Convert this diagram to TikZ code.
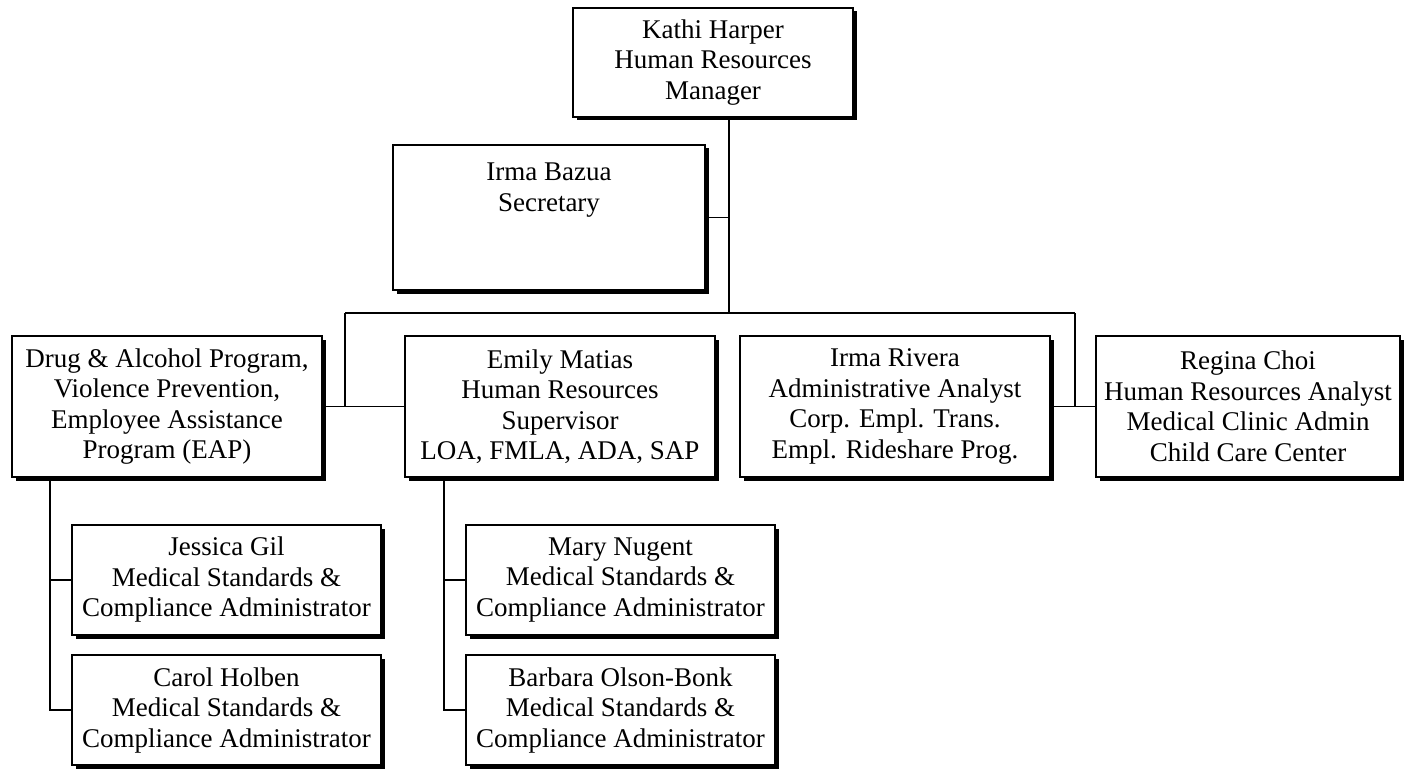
\documentclass[tikz,border=0pt]{standalone}
\usepackage{fontspec}
\setmainfont{Liberation Serif}
\usetikzlibrary{shadows}
\begin{document}
\begin{tikzpicture}[x=1pt,y=-1pt,
  box/.style={draw=black, line width=2pt, fill=white, inner sep=0pt, align=center,
    font=\fontsize{27}{30.5}\selectfont,
    drop shadow={shadow xshift=3.5pt, shadow yshift=-3.5pt, fill=black, opacity=1}},
  conn/.style={draw=black, line width=1.9pt}]
\useasboundingbox (0,0) rectangle (1405,770);
\coordinate (tj) at (729,313);
\coordinate (bl) at (345,313);
\coordinate (br) at (1075,313);
\coordinate (dl) at (50,710);
\coordinate (el) at (444,710);
% boxes
\node[box, minimum width=280pt, minimum height=109pt] (top) at (713,62.5) {Kathi Harper\\Human Resources\\Manager};
\node[box, minimum width=312pt, minimum height=145pt] (sec) at (549,217.5) {Irma Bazua\\Secretary\\~\\~};
\node[box, minimum width=310pt, minimum height=141pt] (drug) at (167,406.5) {Drug \& Alcohol Program,\\Violence Prevention,\\Employee Assistance\\Program (EAP)};
\node[box, minimum width=310pt, minimum height=141pt] (emily) at (560,406.5) {Emily Matias\\Human Resources\\Supervisor\\LOA, FMLA, ADA, SAP};
\node[box, minimum width=310pt, minimum height=141pt] (rivera) at (895,406.5) {Irma Rivera\\Administrative Analyst\\Corp. Empl. Trans.\\Empl. Rideshare Prog.};
\node[box, minimum width=304pt, minimum height=141pt] (choi) at (1248,406.5) {Regina Choi\\Human Resources Analyst\\Medical Clinic Admin\\Child Care Center};
\node[box, minimum width=309pt, minimum height=110pt] (jessica) at (226.5,580) {Jessica Gil\\Medical Standards \&\\Compliance Administrator};
\node[box, minimum width=309pt, minimum height=110pt] (carol) at (226.5,710) {Carol Holben\\Medical Standards \&\\Compliance Administrator};
\node[box, minimum width=309pt, minimum height=110pt] (mary) at (620.5,580) {Mary Nugent\\Medical Standards \&\\Compliance Administrator};
\node[box, minimum width=309pt, minimum height=110pt] (barbara) at (620.5,710) {Barbara Olson-Bonk\\Medical Standards \&\\Compliance Administrator};
% connectors
\draw[conn] (top.south -| tj) -- (tj);
\draw[conn] (sec.east) -- (sec.east -| tj);
\draw[conn] (bl) -- (br);
\draw[conn] (bl) -- (bl |- drug.east);
\draw[conn] (drug.east) -- (emily.west);
\draw[conn] (br) -- (br |- rivera.east);
\draw[conn] (rivera.east) -- (choi.west);
\draw[conn] (drug.south -| dl) -- (dl |- carol.west) -- (carol.west);
\draw[conn] (dl |- jessica.west) -- (jessica.west);
\draw[conn] (emily.south -| el) -- (el |- barbara.west) -- (barbara.west);
\draw[conn] (el |- mary.west) -- (mary.west);
\end{tikzpicture}
\end{document}
